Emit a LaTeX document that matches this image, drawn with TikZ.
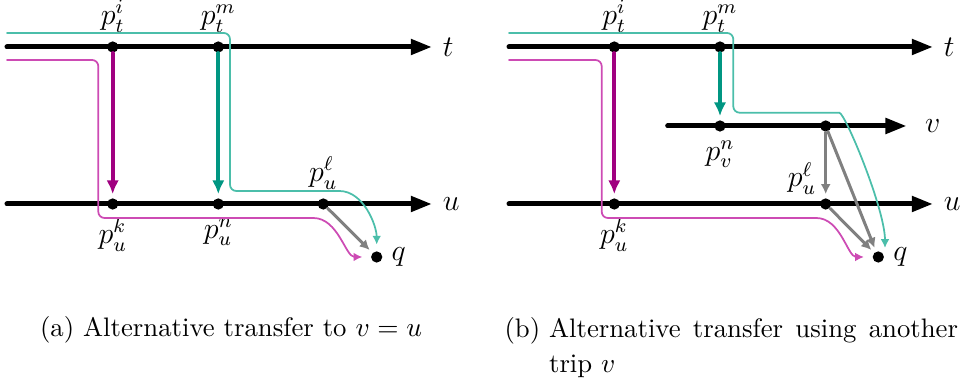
\documentclass[tikz,border=0pt]{standalone}
\usetikzlibrary{arrows.meta}
\definecolor{transfermag}{RGB}{160,0,128}
\definecolor{transferteal}{RGB}{0,150,130}
\definecolor{pathmag}{RGB}{205,75,180}
\definecolor{pathteal}{RGB}{75,190,170}
\tikzset{
  stopdot/.style={circle,fill,inner sep=0pt,minimum size=4.5pt},
  trip/.style={line width=2pt,-{Triangle[length=8.5pt,width=6pt]}},
  transfer/.style={line width=1.6pt,-{Latex[length=5.5pt,width=5pt]},shorten >=1.5pt},
  footpath/.style={line width=1.2pt,gray,-{Latex[length=4pt,width=4pt]},shorten >=1.5pt},
  journey/.style={line width=0.7pt,rounded corners=2.5pt,-{Latex[length=3.5pt,width=3.5pt]}},
  lbl/.style={font=\large},
  caption/.style={font=\fontsize{10.7}{14}\selectfont,inner sep=0pt},
}
\begin{document}
\begin{tikzpicture}[x=0.4pt, y=0.4pt, line cap=round, line join=round]
  \useasboundingbox (0,0) rectangle (960,384);
  \begin{scope}[name prefix=a-]
    \draw[trip] (7,337) -- (432,337) node[right,lbl] (t) {$t$};
    \draw[trip] (7,180) -- (432,180) node[right,lbl] (u) {$u$};
    \node[stopdot,label={[lbl]above:$p_t^i$}] (ti) at (112.7,337) {};
    \node[stopdot,label={[lbl]above:$p_t^m$}] (tm) at (218.3,337) {};
    \node[stopdot,label={[lbl]below:$p_u^k$}] (uk) at (112.7,180) {};
    \node[stopdot,label={[lbl]below:$p_u^n$}] (un) at (218.3,180) {};
    \node[stopdot,label={[lbl]above:$p_u^\ell$}] (ul) at (323.3,180) {};
    \node[stopdot,label={[lbl]right:$q$}] (q) at (376.7,127) {};
    \draw[transfer,transfermag] (ti) -- (uk);
    \draw[transfer,transferteal] (tm) -- (un);
    \draw[footpath] (ul) -- (q);
    \coordinate (ts) at (7,351);
    \coordinate (ms) at (7,324);
    \draw[journey,pathteal,shorten >=2.5pt] (ts) -- (230,351) -- (230,193) -- (333,193) to[out=0,in=90] (q);
    \draw[journey,pathmag,shorten >=3.3pt] (ms) -- (98.3,324) -- (98.3,166) -- (307,166) to[out=0,in=180] (q);
  \end{scope}
  \begin{scope}[shift={(502,0)},name prefix=b-]
    \draw[trip] (7,337) -- (431,337) node[right,lbl] (t) {$t$};
    \draw[trip] (165.7,258) -- (404.7,258) node[right,lbl,xshift=3pt] (v) {$v$};
    \draw[trip] (7,180) -- (431,180) node[right,lbl] (u) {$u$};
    \node[stopdot,label={[lbl]above:$p_t^i$}] (ti) at (112.3,337) {};
    \node[stopdot,label={[lbl]above:$p_t^m$}] (tm) at (218,337) {};
    \node[stopdot,label={[lbl]below:$p_v^n$}] (vn) at (218,258) {};
    \node[stopdot] (vl) at (323.7,258) {};
    \node[stopdot,label={[lbl]below:$p_u^k$}] (uk) at (112.3,180) {};
    \node[stopdot,label={[lbl,label distance=-2pt]above left:$p_u^\ell$}] (ul) at (323.7,180) {};
    \node[stopdot,label={[lbl]right:$q$}] (q) at (376.3,127) {};
    \draw[transfer,transfermag] (ti) -- (uk);
    \draw[transfer,transferteal] (tm) -- (vn);
    \draw[footpath] (vl) -- (ul);
    \draw[footpath] (vl) -- (q);
    \draw[footpath] (ul) -- (q);
    \coordinate (ts) at (7,351);
    \coordinate (ms) at (7,324);
    \draw[journey,pathteal] (ts) -- (231.3,351) -- (231.3,271.3) -- (331,271.3)
      .. controls (343,271.3) and (383,175) .. ([shift={(6.7,9)}]q.center);
    \draw[journey,pathmag,shorten >=3.3pt] (ms) -- (99.7,324) -- (99.7,166) -- (308,166) to[out=0,in=180] (q);
  \end{scope}
  \node[caption,anchor=base] (capa) at (231,47) {(a) Alternative transfer to $v = u$};
  \node[caption,anchor=north west] (capb) at (504,67)
    {(b) \parbox[t]{163.6pt}{Alternative transfer using another trip $v$}};
\end{tikzpicture}
\end{document}
